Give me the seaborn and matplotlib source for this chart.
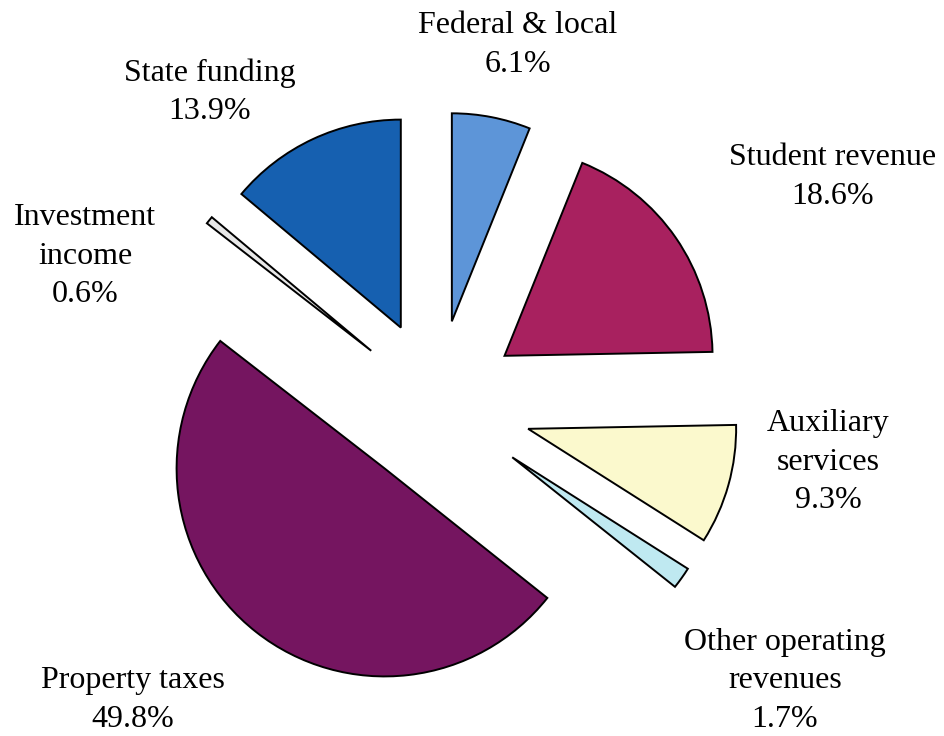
import matplotlib
matplotlib.use("Agg")
import matplotlib.pyplot as plt
import seaborn as sns

# Revenue shares (percent), clockwise from 12 o'clock
sources = ['Federal & local', 'Student revenue', 'Auxiliary services',
           'Other operating revenues', 'Property taxes', 'Investment income',
           'State funding']
shares = [6.1, 18.6, 9.3, 1.7, 49.8, 0.6, 13.9]
label_text = ['Federal & local', 'Student revenue', 'Auxiliary\nservices',
              'Other operating\nrevenues', 'Property taxes', 'Investment\nincome',
              'State funding']

colors = ['#5d95d8', '#a8215f', '#fbf9cd', '#bfe9f1', '#751560', '#e8e8e8', '#1660b0']
explode = [0.4, 0.4, 0.46, 0.45, 0.4, 0.4, 0.4]
# label block centres in figure pixels (from top-left)
label_pos = [(518, 45), (833, 177), (828, 462), (785, 681), (133, 700), (85, 256), (210, 92)]

sns.set_style("white")
plt.rcParams['font.family'] = ['Liberation Serif', 'DejaVu Serif']

W, H = 944, 736
R = 208.0
cx, cy = 436, 403

fig = plt.figure(figsize=(W / 100, H / 100), dpi=100)
ax = fig.add_axes([0, 0, 1, 1])
ax.pie(shares, colors=colors, explode=explode, startangle=90, counterclock=False,
       radius=1, wedgeprops={'edgecolor': 'black', 'linewidth': 1.4})
ax.set_xlim(-cx / R, (W - cx) / R)
ax.set_ylim(-(H - cy) / R, cy / R)
ax.set_aspect('equal')
ax.axis('off')

for txt, val, (px, py) in zip(label_text, shares, label_pos):
    ax.annotate(f"{txt}\n{val:.1f}%", xy=(px, H - py), xycoords='figure pixels',
                ha='center', va='center', multialignment='center',
                fontsize=23, linespacing=1.42, color='black')

fig.savefig('out.png', dpi=100)
